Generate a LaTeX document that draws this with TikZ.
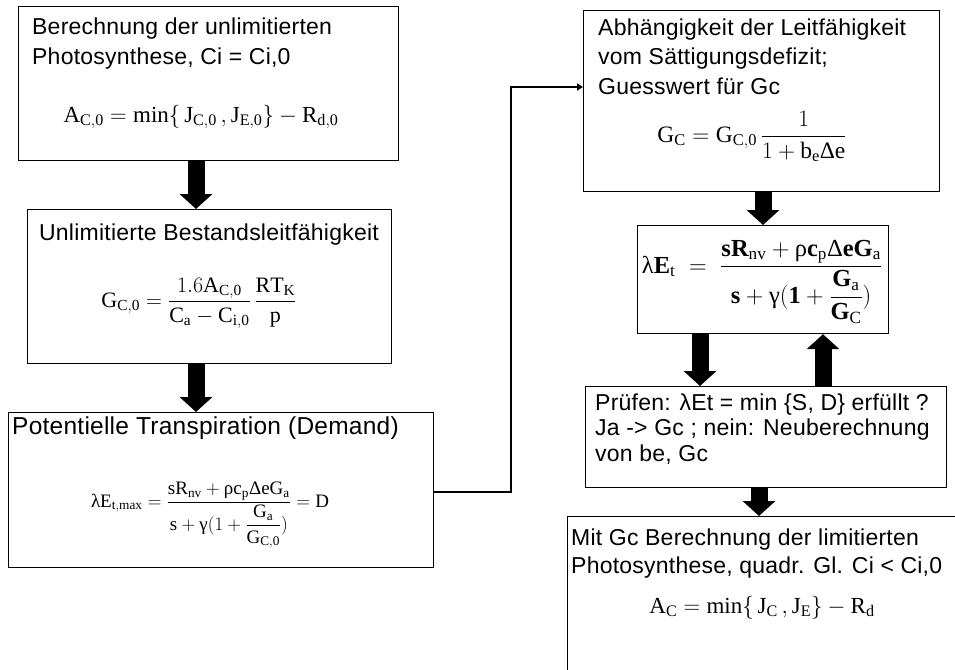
\RequirePackage{fix-cm}
\documentclass[tikz,border=0pt]{standalone}
\usepackage{amsmath}
\usepackage{fontspec}
\setmainfont{Liberation Serif}
\setsansfont[LetterSpace=1]{Liberation Sans}
\usetikzlibrary{arrows.meta}
\begin{document}
\begin{tikzpicture}[x=1pt,y=-1pt,
  box/.style={draw=black,line width=1.2pt,rectangle,inner sep=0pt,anchor=north west},
  lbl/.style={anchor=base west,inner sep=0pt,font=\sffamily\fontsize{23}{27}\selectfont},
  ttl/.style={anchor=base,inner sep=0pt,font=\sffamily\fontsize{23}{27}\selectfont},
  eq/.style={anchor=base,inner sep=0pt,font=\fontsize{23}{27}\selectfont},
  blockarrow/.style={line width=17pt,-{Triangle[width=32pt,length=15pt]}},
  conn/.style={line width=2.2pt,-{Triangle[width=7pt,length=6pt]}}]
\useasboundingbox (0,0) rectangle (955,669);
\clip (0,0) rectangle (955,669);

% boxes
\node[box,minimum width=380pt,minimum height=154pt] (b1) at (18,6) {};
\node[box,minimum width=364pt,minimum height=154pt] (b2) at (27,209) {};
\node[box,minimum width=425pt,minimum height=155pt] (b3) at (8,412) {};
\node[box,minimum width=356pt,minimum height=181pt] (b4) at (583,10) {};
\node[box,minimum width=251pt,minimum height=108pt] (b5) at (637,225) {};
\node[box,minimum width=361pt,minimum height=101pt] (b6) at (585,386) {};
\node[box,minimum width=420pt,minimum height=200pt] (b7) at (567,516) {};

% box 1
\node[lbl] (t1a) at (32,35) {Berechnung der unlimitierten};
\node[lbl] (t1b) at (32,65) {Photosynthese, Ci = Ci,0};
\node[eq] (f1) at (201,122) {$\mathrm{A_{C,0}} = \mathrm{min}\{\,\mathrm{J_{C,0}}\,,\mathrm{J_{E,0}}\} - \mathrm{R_{d,0}}$};

% box 2
\node[ttl] (t2) at (209,240) {Unlimitierte Bestandsleitfähigkeit};
\node[eq,font=\fontsize{22}{26}\selectfont] (f2) at (199,307) {$\displaystyle \mathrm{G_{C,0}} = \frac{1.6\mathrm{A_{C,0}}}{\mathrm{C_a}-\mathrm{C_{i,0}}}\,\frac{\mathrm{RT_K}}{\mathrm{p}}$};

% box 3
\node[lbl,font=\sffamily\fontsize{24.5}{28}\selectfont] (t3) at (12,434) {Potentielle Transpiration (Demand)};
\node[eq,font=\fontsize{19}{22}\selectfont] (f3) at (210,507) {$\displaystyle \textrm{λ}\mathrm{E_{t,max}} = \frac{\mathrm{sR_{nv}} + \textrm{ρ}\mathrm{c_p}\textrm{Δ}\mathrm{eG_a}}{\mathrm{s}+\textrm{γ}(1+\dfrac{\mathrm{G_a}}{\mathrm{G_{C,0}}})} = \mathrm{D}$};

% box 4
\node[lbl] (t4a) at (598,36) {Abhängigkeit der Leitfähigkeit};
\node[lbl] (t4b) at (598,65) {vom Sättigungsdefizit;};
\node[lbl] (t4c) at (598,94) {Guesswert für Gc};
\node[eq,font=\fontsize{23.5}{27}\selectfont] (f4) at (752,142) {$\displaystyle \mathrm{G_C} = \mathrm{G_{C,0}}\,\frac{1}{1+\mathrm{b_e}\textrm{Δ}\mathrm{e}}$};

% box 5
\node[eq,font=\fontsize{24.5}{28}\selectfont] (f5) at (762,273) {$\displaystyle \textrm{λ}\mathbf{E}_{\mathrm{t}} \;=\; \frac{\mathbf{sR}_{\mathrm{nv}} + \textrm{ρ}\mathbf{c}_{\mathrm{p}}\textrm{Δ}\mathbf{eG}_{\mathrm{a}}}{\mathbf{s}+\textrm{γ}(\mathbf{1}+\dfrac{\mathbf{G}_{\mathrm{a}}}{\mathbf{G}_{\mathrm{C}}})}$};

% box 6
\node[lbl] (t6a) at (595,410) {Prüfen: λEt = min \{S, D\} erfüllt ?};
\node[lbl] (t6b) at (595,435.5) {Ja -> Gc ; nein: Neuberechnung};
\node[lbl] (t6c) at (595,461) {von be, Gc};

% box 7
\node[lbl] (t7a) at (571,545) {Mit Gc Berechnung der limitierten};
\node[lbl] (t7b) at (571,573) {Photosynthese, quadr. Gl. Ci < Ci,0};
\node[eq] (f7) at (762,613) {$\mathrm{A_C} = \mathrm{min}\{\,\mathrm{J_C}\,,\mathrm{J_E}\} - \mathrm{R_d}$};

% block arrows
\coordinate (ax1) at (196,0);
\coordinate (ax4) at (763,0);
\coordinate (ax5) at (700,0);
\coordinate (ax6) at (823,0);
\coordinate (ax7) at (759,0);
\draw[blockarrow] (b1.south -| ax1) -- (b2.north -| ax1);
\draw[blockarrow] (b2.south -| ax1) -- (b3.north -| ax1);
\draw[blockarrow] (b4.south -| ax4) -- (b5.north -| ax4);
\draw[blockarrow] (b5.south -| ax5) -- (b6.north -| ax5);
\draw[blockarrow] (b6.north -| ax6) -- (b5.south -| ax6);
\draw[blockarrow] (b6.south -| ax7) -- (b7.north -| ax7);

% connector
\coordinate (j1) at (511,492);
\coordinate (j2) at (511,87);
\draw[conn] (b3.east |- j1) -- (j1) -- (j2) -- (b4.west |- j2);
\end{tikzpicture}
\end{document}
